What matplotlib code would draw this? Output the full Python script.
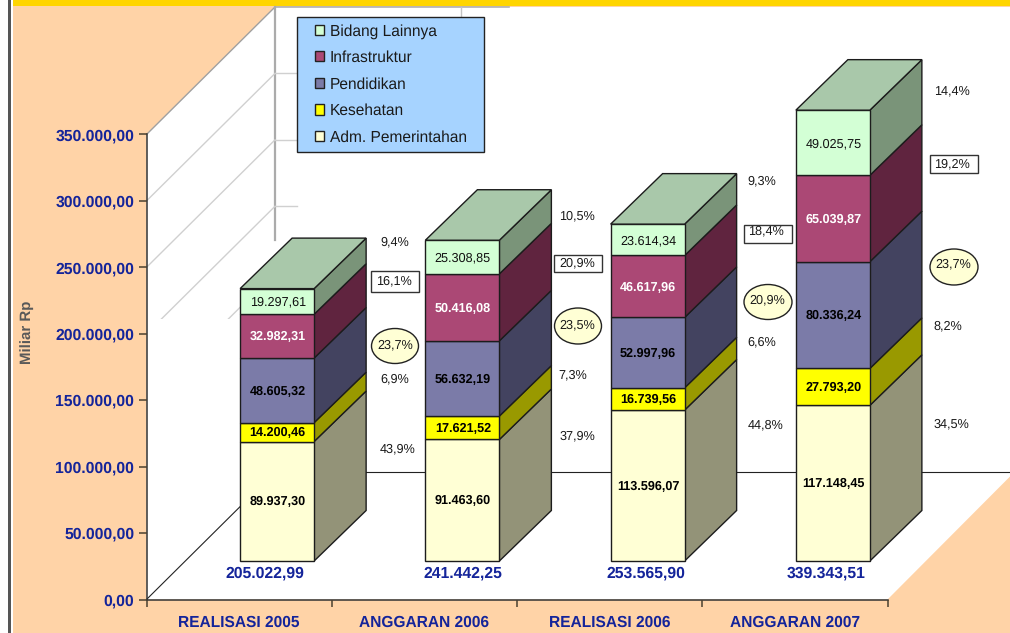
import matplotlib
matplotlib.use("Agg")
import matplotlib.pyplot as plt
from matplotlib.patches import Polygon, Rectangle, Ellipse, Patch
from matplotlib.transforms import Affine2D
import numpy as np

plt.rcParams['font.family'] = ['Liberation Sans', 'DejaVu Sans']
plt.rcParams['text.hinting'] = 'no_hinting'
plt.rcParams['text.hinting_factor'] = 8

# ---------- data ----------
categories = ["REALISASI 2005", "ANGGARAN 2006", "REALISASI 2006", "ANGGARAN 2007"]
series_names = ["Adm. Pemerintahan", "Kesehatan", "Pendidikan", "Infrastruktur", "Bidang Lainnya"]
adm = [89937.30, 91463.60, 113596.07, 117148.45]
kesehatan = [14200.46, 17621.52, 16739.56, 27793.20]
pendidikan = [48605.32, 56632.19, 52997.96, 80336.24]
infrastruktur = [32982.31, 50416.08, 46617.96, 65039.87]
lainnya = [19297.61, 25308.85, 23614.34, 49025.75]
adm_labels = ["89.937,30", "91.463,60", "113.596,07", "117.148,45"]
kes_labels = ["14.200,46", "17.621,52", "16.739,56", "27.793,20"]
pend_labels = ["48.605,32", "56.632,19", "52.997,96", "80.336,24"]
infra_labels = ["32.982,31", "50.416,08", "46.617,96", "65.039,87"]
lain_labels = ["19.297,61", "25.308,85", "23.614,34", "49.025,75"]
total_labels = ["205.022,99", "241.442,25", "253.565,90", "339.343,51"]
y_ticks = [0, 50000, 100000, 150000, 200000, 250000, 300000, 350000]
y_tick_labels = ["0,00", "50.000,00", "100.000,00", "150.000,00", "200.000,00",
                 "250.000,00", "300.000,00", "350.000,00"]
pct_adm = ["43,9%", "37,9%", "44,8%", "34,5%"]
pct_kes = ["6,9%", "7,3%", "6,6%", "8,2%"]
pct_pend = ["23,7%", "23,5%", "20,9%", "23,7%"]
pct_infra = ["16,1%", "20,9%", "18,4%", "19,2%"]
pct_lain = ["9,4%", "10,5%", "9,3%", "14,4%"]

# ---------- layout (pixels) ----------
W, H = 1010, 633
PEACH = "#FFD3A7"
BLUE = "#14249A"
front = ["#FFFFD5", "#FFFF00", "#7B7BA8", "#AB4875", "#D3FFD5"]
side = ["#939378", "#999900", "#434360", "#60243F", "#7A9479"]
top_col = "#A9C8AA"
EDGE = "#1c1c1c"

pos_adm = [(398, 449), (577, 436), (766, 425), (951, 424)]
pos_kes = [(395, 379), (573, 375), (762, 342), (948, 326)]
pos_pend = [(395, 345), (577, 325), (767, 300), (953, 264)]
pos_infra = [(394, 281), (577, 263), (766, 231), (952, 164)]
pos_lain = [(395, 242), (577, 216), (762, 181), (952, 91)]
pos_total = [(265, 573), (462.5, 573), (646, 573), (826, 573)]
box_infra = [(371, 271, 48, 21), (554, 255, 48, 17), (744, 225, 48, 18), (930, 155, 48, 18)]
ell_pend = [(395, 346, 47, 35), (578, 326, 47, 36), (768, 302, 48, 35), (954, 267, 48, 36)]

fig = plt.figure(figsize=(W / 100, H / 100), dpi=100, facecolor="white")
ax = fig.add_axes([146.5 / W, (H - 599.5) / H, 741 / W, 465 / H])
ax.set_xlim(0, 4)
ax.set_ylim(0, 350000)
ax.patch.set_visible(False)

px = Affine2D().scale(1, -1).translate(0, H)  # pixel coordinates, y downward
XU = 4 / 741.0        # data units per pixel
YU = 350000 / 465.0


def deco(patch, z=0):
    patch.set_transform(px)
    patch.set_zorder(z)
    patch.set_clip_on(False)
    ax.add_artist(patch)


def pline(xs, ys, z=0.5, **kw):
    ax.plot(xs, ys, transform=px, clip_on=False, zorder=z, **kw)


# background
deco(Rectangle((13, 6), W - 13, H - 6, fc=PEACH, ec="none"), -5)
deco(Rectangle((13, 0), W - 13, 6, fc="#FFD500", ec="none"), -4)
deco(Rectangle((8, 0), 2.5, H, fc="#555555", ec="none"), -4)
deco(Polygon([(146.5, 134.5), (275, 7), (W, 7), (W, 476.5), (887.5, 599.5), (146.5, 599.5)],
             closed=True, fc="white", ec="none"), -3)
pline([146.5, 275], [134.5, 7], color="#A0A0A0", lw=1.0, z=-2)
pline([275, 509], [7, 7], color="#B0B0B0", lw=1.2, z=-2)
pline([275, 275], [7, 240], color="#ABABAB", lw=1.6, z=-2)
pline([460.5, 460.5], [7, 17], color="#C4C4C4", lw=1.0, z=-2)

# side-wall and back-wall gridlines
clip_rect = Rectangle((0, 0), W, 319, transform=px)
DX, DY = 128.5 * XU, 127.5 * YU
for v in y_ticks[1:-1]:
    ln, = ax.plot([0, DX], [v, v + DY], color="#D0D0D0", lw=1.0, zorder=-2, clip_on=True)
    ln.set_clip_path(clip_rect)
    if v >= 200000:
        ax.plot([DX, DX + 22 * XU], [v + DY, v + DY], color="#D0D0D0", lw=1.0, zorder=-2, clip_on=False)

# floor lines
ax.plot([0, DX], [0, DY], color="#222222", lw=0.8, zorder=-2, clip_on=False)
ax.plot([DX, (W - 146.5) * XU], [DY, DY], color="#222222", lw=0.8, zorder=-2, clip_on=False)

# bars
FX, FY = 38 * XU, 38.5 * YU
BW = 74 * XU
BDX, BDY = 52 * XU, 50.5 * YU
stacks = [adm, kesehatan, pendidikan, infrastruktur, lainnya]
texts = [adm_labels, kes_labels, pend_labels, infra_labels, lain_labels]
styles = [("bold", "black"), ("bold", "black"), ("bold", "black"), ("bold", "white"), ("normal", "#111111")]
for i in range(4):
    x0 = i + 0.5 + FX - BW / 2
    x1 = x0 + BW
    base = FY
    for k, s in enumerate(stacks):
        h = s[i]
        ax.bar(x0, h, width=BW, bottom=base, align="edge", color=front[k], edgecolor=EDGE,
               linewidth=1.0, zorder=3, clip_on=False)
        ax.fill([x1, x1 + BDX, x1 + BDX, x1], [base, base + BDY, base + h + BDY, base + h],
                facecolor=side[k], edgecolor=EDGE, linewidth=1.0, zorder=2, clip_on=False)
        w, c = styles[k]
        ax.text((x0 + x1) / 2 + 0.5 * XU, base + h / 2 - 0.8 * YU, texts[k][i], ha="center", va="center",
                fontsize=9.1, fontweight=w, color=c, zorder=4)
        base += h
    ax.fill([x0, x0 + BDX, x1 + BDX, x1], [base, base + BDY, base + BDY, base],
            facecolor=top_col, edgecolor=EDGE, linewidth=1.0, zorder=3, clip_on=False)
    ax.text(pos_total[i][0], pos_total[i][1], total_labels[i], transform=px, ha="center", va="center",
            fontsize=11.3, fontweight="bold", color=BLUE, zorder=4, clip_on=False)

# percentage annotations
for (x, y, w, h) in box_infra:
    deco(Rectangle((x, y), w, h, fc="white", ec="#333333", lw=1.0), 1)
for (x, y, w, h) in ell_pend:
    deco(Ellipse((x, y), w, h, fc="#FFFFD5", ec="#222222", lw=1.0), 1)
for labels, positions in [(pct_adm, pos_adm), (pct_kes, pos_kes), (pct_pend, pos_pend),
                          (pct_infra, pos_infra), (pct_lain, pos_lain)]:
    for s, (x, y) in zip(labels, positions):
        ax.text(x, y, s, transform=px, ha="center", va="center", fontsize=9.1,
                color="#1a1a1a", zorder=5, clip_on=False)

# axes
for sp in ("top", "right"):
    ax.spines[sp].set_visible(False)
for sp in ("left", "bottom"):
    ax.spines[sp].set_color("#333333")
    ax.spines[sp].set_linewidth(1.1)
    ax.spines[sp].set_zorder(1)
ax.set_yticks(y_ticks)
ax.set_yticklabels(y_tick_labels, fontsize=11.3, fontweight="bold", color=BLUE)
ax.tick_params(axis="y", length=5.8, width=1.1, color="#4a4030", pad=3)
ax.set_xticks(range(5))
ax.set_xticklabels([""] * 5)
ax.tick_params(axis="x", which="major", length=5, width=1.1, color="#4a4030")
ax.set_xticks(np.arange(4) + 0.5, minor=True)
ax.set_xticklabels(categories, minor=True, fontsize=11.2, fontweight="bold", color=BLUE)
ax.tick_params(axis="x", which="minor", length=0, pad=11)
ax.text(27, 332, "Miliar Rp", transform=px, rotation=90, ha="center", va="center",
        fontsize=10.8, fontweight="bold", color="#595959", clip_on=False)

# legend: frame drawn separately so its padding can differ per side
deco(Rectangle((297, 17), 186.5, 134.5, fc="#A6D3FF", ec="#222222", lw=1.0), 5.8)
handles = [Patch(facecolor=front[k], edgecolor="#222222", linewidth=1.0, label=series_names[k])
           for k in range(4, -1, -1)]
leg = ax.legend(handles=handles, loc="upper left", bbox_to_anchor=(314.6 / W, 1 - 23.6 / H),
                bbox_transform=fig.transFigure, fontsize=11.2, frameon=False,
                borderaxespad=0, borderpad=0, labelspacing=0.75, handlelength=0.62,
                handleheight=0.62, handletextpad=0.36, labelcolor="#1a1a1a")
leg.set_zorder(6)

fig.savefig("out.png", dpi=100, facecolor=fig.get_facecolor())
